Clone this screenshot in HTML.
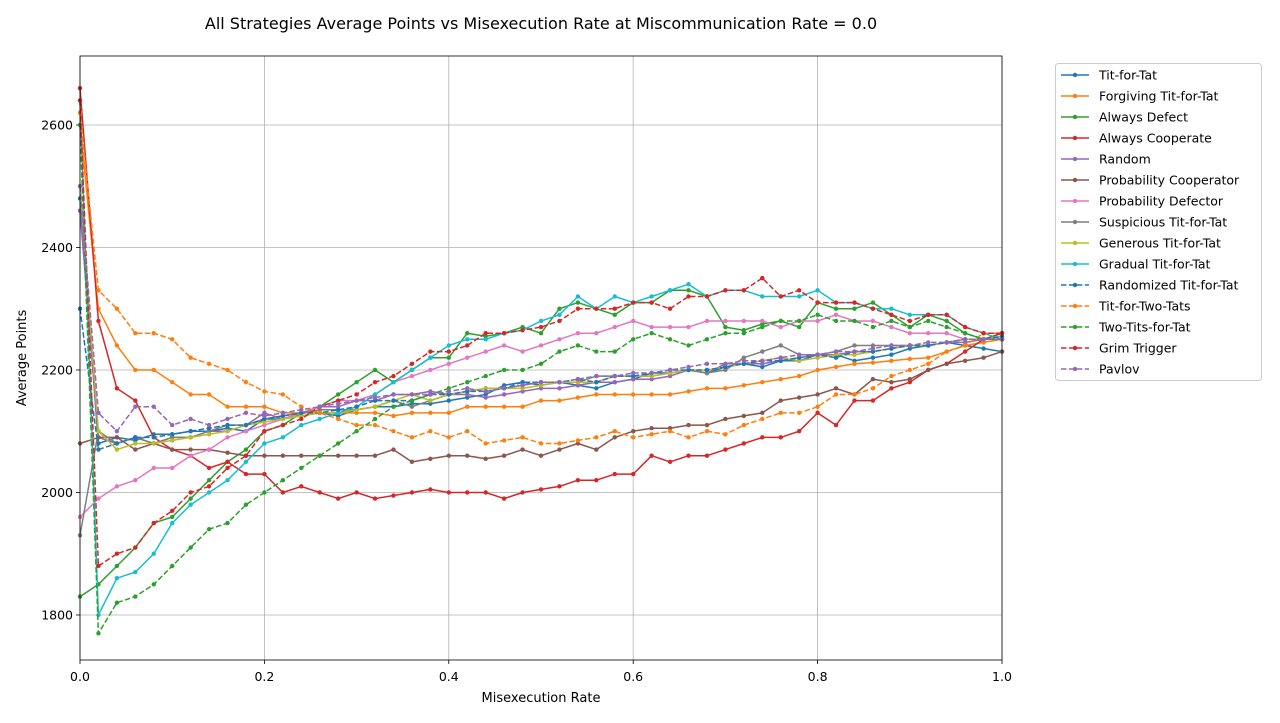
<!DOCTYPE html>
<html><head><meta charset="utf-8"><style>
body{margin:0;background:#fff;font-family:"DejaVu Sans","Liberation Sans",sans-serif;}
svg text{font-family:"DejaVu Sans","Liberation Sans",sans-serif;}
</style></head><body>
<svg id="chart" width="1280" height="719" xmlns="http://www.w3.org/2000/svg"></svg>
<script>
const xTicks=[0,0.2,0.4,0.6,0.8,1.0];
const xTickLabels=["0.0","0.2","0.4","0.6","0.8","1.0"];
const yTicks=[1800,2000,2200,2400,2600];
const yTickLabels=["1800","2000","2200","2400","2600"];
const names=["Tit-for-Tat","Forgiving Tit-for-Tat","Always Defect","Always Cooperate","Random","Probability Cooperator","Probability Defector","Suspicious Tit-for-Tat","Generous Tit-for-Tat","Gradual Tit-for-Tat","Randomized Tit-for-Tat","Tit-for-Two-Tats","Two-Tits-for-Tat","Grim Trigger","Pavlov"];
const colors=["#1f77b4","#ff7f0e","#2ca02c","#d62728","#9467bd","#8c564b","#e377c2","#7f7f7f","#bcbd22","#17becf","#1f77b4","#ff7f0e","#2ca02c","#d62728","#9467bd"];
const sTFT=[2480,2080,2090,2085,2095,2095,2100,2100,2105,2100,2120,2120,2125,2130,2125,2135,2140,2140,2145,2145,2150,2155,2160,2175,2180,2175,2180,2175,2170,2180,2185,2195,2195,2200,2195,2205,2210,2205,2215,2215,2225,2225,2215,2220,2225,2235,2240,2245,2240,2235,2230];
const sFTFT=[2600,2300,2240,2200,2200,2180,2160,2160,2140,2140,2140,2130,2130,2130,2130,2130,2130,2125,2130,2130,2130,2140,2140,2140,2140,2150,2150,2155,2160,2160,2160,2160,2160,2165,2170,2170,2175,2180,2185,2190,2200,2205,2210,2212,2215,2218,2220,2230,2240,2245,2250];
const sAD=[1830,1850,1880,1910,1950,1960,1990,2020,2050,2070,2100,2110,2130,2140,2160,2180,2200,2180,2200,2220,2220,2260,2255,2260,2270,2260,2300,2310,2300,2290,2310,2310,2330,2330,2320,2270,2265,2275,2280,2270,2310,2300,2300,2310,2290,2270,2290,2280,2260,2250,2260];
const sAC=[2660,2280,2170,2150,2090,2070,2060,2040,2050,2030,2030,2000,2010,2000,1990,2000,1990,1995,2000,2005,2000,2000,2000,1990,2000,2005,2010,2020,2020,2030,2030,2060,2050,2060,2060,2070,2080,2090,2090,2100,2130,2110,2150,2150,2170,2180,2200,2210,2230,2250,2260];
const sRand=[2460,2090,2080,2090,2080,2090,2090,2100,2100,2110,2130,2120,2130,2140,2140,2150,2150,2160,2160,2165,2160,2160,2155,2160,2165,2170,2170,2175,2180,2180,2185,2185,2190,2200,2195,2210,2210,2210,2215,2220,2225,2225,2230,2230,2235,2240,2240,2245,2245,2250,2250];
const sPC=[2080,2090,2090,2070,2080,2070,2070,2070,2065,2060,2060,2060,2060,2060,2060,2060,2060,2070,2050,2055,2060,2060,2055,2060,2070,2060,2070,2080,2070,2090,2100,2105,2105,2110,2110,2120,2125,2130,2150,2155,2160,2170,2160,2185,2180,2185,2200,2210,2215,2220,2230];
const sPD=[1960,1990,2010,2020,2040,2040,2060,2070,2090,2100,2110,2120,2130,2140,2150,2150,2160,2180,2190,2200,2210,2220,2230,2240,2230,2240,2250,2260,2260,2270,2280,2270,2270,2270,2280,2280,2280,2280,2270,2280,2280,2290,2280,2280,2270,2260,2260,2260,2250,2250,2250];
const sSTFT=[1930,2100,2080,2090,2080,2090,2090,2100,2110,2110,2120,2125,2130,2135,2135,2135,2140,2150,2140,2150,2160,2165,2170,2170,2175,2180,2180,2180,2190,2190,2190,2190,2195,2200,2195,2200,2220,2230,2240,2225,2225,2230,2240,2240,2240,2240,2240,2245,2250,2250,2250];
const sGTFT=[2500,2100,2070,2080,2080,2085,2090,2095,2100,2110,2115,2120,2125,2130,2130,2135,2140,2150,2160,2150,2160,2165,2170,2170,2170,2175,2180,2180,2180,2190,2190,2190,2195,2200,2200,2205,2210,2215,2220,2215,2220,2225,2225,2230,2235,2240,2240,2245,2250,2250,2255];
const sGrad=[2640,1800,1860,1870,1900,1950,1980,2000,2020,2050,2080,2090,2110,2120,2130,2140,2160,2180,2200,2220,2240,2250,2250,2260,2265,2280,2290,2320,2300,2320,2310,2320,2330,2340,2320,2330,2330,2320,2320,2320,2330,2310,2310,2300,2300,2290,2290,2290,2270,2260,2250];
const sRTFT=[2300,2070,2080,2090,2090,2095,2100,2105,2110,2110,2120,2125,2130,2130,2135,2140,2150,2150,2150,2160,2160,2165,2165,2170,2180,2180,2180,2185,2180,2190,2190,2195,2200,2200,2200,2205,2210,2215,2215,2220,2225,2220,2230,2230,2235,2240,2240,2245,2250,2250,2255];
const sTF2T=[2620,2330,2300,2260,2260,2250,2220,2210,2200,2180,2165,2160,2140,2130,2120,2110,2110,2100,2090,2100,2090,2100,2080,2085,2090,2080,2080,2085,2090,2100,2090,2095,2100,2090,2100,2095,2110,2120,2130,2130,2140,2160,2160,2170,2190,2200,2210,2230,2240,2260,2260];
const sTTFT=[2600,1770,1820,1830,1850,1880,1910,1940,1950,1980,2000,2020,2040,2060,2080,2100,2120,2140,2150,2160,2170,2180,2190,2200,2200,2210,2230,2240,2230,2230,2250,2260,2250,2240,2250,2260,2260,2270,2280,2280,2290,2280,2280,2270,2280,2270,2280,2270,2260,2250,2250];
const sGrim=[2640,1880,1900,1910,1950,1970,2000,2010,2040,2060,2100,2110,2120,2140,2150,2160,2180,2190,2210,2230,2230,2240,2260,2260,2265,2270,2280,2300,2300,2300,2310,2310,2300,2320,2320,2330,2330,2350,2320,2330,2310,2310,2310,2300,2290,2280,2290,2290,2270,2260,2260];
const sPav=[2500,2130,2100,2140,2140,2110,2120,2110,2120,2130,2125,2130,2135,2140,2145,2150,2155,2160,2160,2160,2165,2170,2165,2170,2175,2180,2180,2185,2190,2190,2195,2195,2200,2205,2210,2210,2215,2215,2220,2225,2225,2230,2230,2235,2240,2240,2245,2245,2250,2250,2250];
const series=[sTFT,sFTFT,sAD,sAC,sRand,sPC,sPD,sSTFT,sGTFT,sGrad,sRTFT,sTF2T,sTTFT,sGrim,sPav];
const xStep=0.02;

const NS="http://www.w3.org/2000/svg";
const svg=document.getElementById('chart');
const L=80,R=1002,T=56,B=660;
const yMin=1726.5,yMax=2712.6;
const xs=v=>L+v*(R-L);
const ys=v=>B-(v-yMin)/(yMax-yMin)*(B-T);
function mk(tag,attrs,parent){const e=document.createElementNS(NS,tag);for(const k in attrs)e.setAttribute(k,attrs[k]);(parent||svg).appendChild(e);return e;}

const title=mk('text',{x:541,y:29,'text-anchor':'middle','font-size':16,fill:'#000'});


title.textContent="All Strategies Average Points vs Misexecution Rate at Miscommunication Rate = 0.0";

const grid=mk('g',{});


xTicks.forEach((t,i)=>{
  mk('line',{x1:xs(t),x2:xs(t),y1:T,y2:B,stroke:'#b0b0b0','stroke-width':0.8},grid);
  mk('line',{x1:xs(t),x2:xs(t),y1:B,y2:B+4,stroke:'#000','stroke-width':0.8});
  const tx=mk('text',{x:xs(t),y:B+21,'text-anchor':'middle','font-size':12.5});
  
  
  tx.textContent=xTickLabels[i];
});
yTicks.forEach((t,i)=>{
  mk('line',{x1:L,x2:R,y1:ys(t),y2:ys(t),stroke:'#b0b0b0','stroke-width':0.8},grid);
  mk('line',{x1:L-4,x2:L,y1:ys(t),y2:ys(t),stroke:'#000','stroke-width':0.8});
  const tx=mk('text',{x:L-7,y:ys(t)+4.5,'text-anchor':'end','font-size':12.5});
  
  
  tx.textContent=yTickLabels[i];
});

const plot=mk('g',{});


series.forEach((s,k)=>{
  const g=mk('g',{},plot);
  
  
  const pts=s.map((v,i)=>xs(i*xStep).toFixed(1)+','+ys(v).toFixed(1)).join(' ');
  const pl=mk('polyline',{points:pts,fill:'none',stroke:colors[k],'stroke-width':1.5,'stroke-linejoin':'round'},g);
  if(k>=10)pl.setAttribute('stroke-dasharray','5.5,2.4');
  s.forEach((v,i)=>{mk('circle',{cx:xs(i*xStep),cy:ys(v),r:2.2,fill:colors[k]},g);});
});
mk('rect',{x:L,y:T,width:R-L,height:B-T,fill:'none',stroke:'#000','stroke-width':0.8});

const xl=mk('text',{x:541,y:702,'text-anchor':'middle','font-size':13});


xl.textContent="Misexecution Rate";
const yl=mk('text',{x:26,y:358,'text-anchor':'middle','font-size':13,transform:'rotate(-90 26 358)'});


yl.textContent="Average Points";

const lg=mk('g',{});


mk('rect',{x:1055.5,y:63.5,width:206,height:317,rx:3,fill:'#fff',stroke:'#ccc','stroke-width':1},lg);
names.forEach((n,k)=>{
  const y=75+k*21;
  const e=mk('g',{},lg);
  
  
  const ln=mk('line',{x1:1061,x2:1089,y1:y,y2:y,stroke:colors[k],'stroke-width':1.5},e);
  if(k>=10)ln.setAttribute('stroke-dasharray','5.5,2.4');
  mk('circle',{cx:1075,cy:y,r:2.2,fill:colors[k]},e);
  const t=mk('text',{x:1099,y:y+4.5,'font-size':12.5},e);
  t.textContent=n;
});
</script>
</body></html>
